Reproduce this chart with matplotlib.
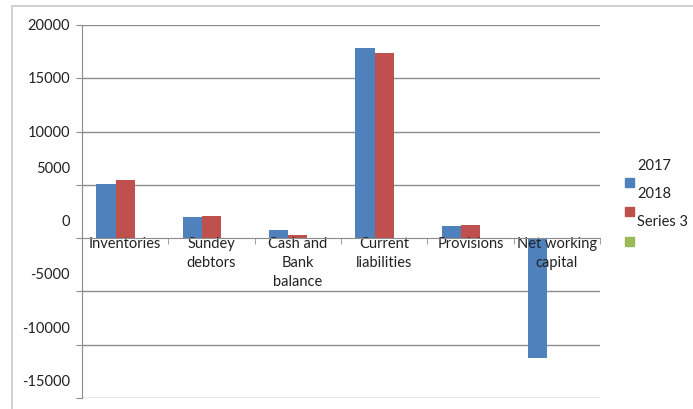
import matplotlib
matplotlib.use("Agg")
import matplotlib.pyplot as plt
import matplotlib.transforms as mtransforms
from matplotlib.patches import Rectangle
import numpy as np

plt.rcParams["font.family"] = ["Lato", "DejaVu Sans"]

categories = ["Inventories", "Sundey\ndebtors", "Cash and\nBank\nbalance",
              "Current\nliabilities", "Provisions", "Net working\ncapital"]
series_names = ["2017", "2018", "Series 3"]
values_2017 = [5050, 1970, 720, 17800, 1130, -11220]
values_2018 = [5480, 2100, 280, 17400, 1260, 0]
values_s3 = [np.nan] * 6
y_ticks = [20000, 15000, 10000, 5000, 0, -5000, -10000, -15000]

colors = ["#4F81BD", "#C0504D", "#9BBB59"]
grid_color = "#8C8C8C"

W, H = 693, 410
fig = plt.figure(figsize=(W / 100, H / 100), dpi=100)
ax = fig.add_axes([82 / W, 1 - 399 / H, 518 / W, 373 / H])

# outer chart frame
fig.add_artist(Rectangle((12 / W, -0.1), 1.2, 1.1 - 7 / H, transform=fig.transFigure,
                         fill=False, edgecolor="#C8C8C8", lw=1.2))

x = np.arange(len(categories))
width = 0.222
for i, vals in enumerate([values_2017, values_2018, values_s3]):
    ax.bar(x + (i - 1) * width, vals, width, color=colors[i], zorder=1)

ax.set_xlim(-0.5, len(categories) - 0.5)
ax.set_ylim(-15000, 20000)

# horizontal gridlines under the bars
for v in y_ticks:
    if v != 0:
        ax.axhline(v, color=grid_color, lw=1, zorder=0.5)

for s in ["top", "right"]:
    ax.spines[s].set_visible(False)
ax.spines["left"].set_color(grid_color)
ax.spines["bottom"].set_position(("data", 0))
ax.spines["bottom"].set_color(grid_color)

ax.set_yticks(y_ticks)
ax.set_yticklabels([])
ax.tick_params(axis="y", direction="out", length=4, color=grid_color)

# y labels: from 5000 down the labels sit higher than their gridlines
for v in y_ticks:
    dy = 0 if v > 5000 else 17
    tr = mtransforms.offset_copy(ax.get_yaxis_transform(), fig=fig, x=-12, y=dy, units="dots")
    ax.text(0, v, str(v), transform=tr, ha="right", va="center", fontsize=10.5, color="#222222")

ax.set_xticks(x)
ax.set_xticklabels(categories, fontsize=10.5, linespacing=1.45, color="#222222")
ax.set_xticks(np.arange(len(categories) + 1) - 0.5, minor=True)
ax.tick_params(axis="x", which="major", length=0, pad=-1.2)
ax.tick_params(axis="x", which="minor", direction="out", length=4, color=grid_color)

# legend: text sits above each colour key
for i, name in enumerate(series_names):
    y_key = 183 + 29.5 * i
    fig.add_artist(Rectangle((625 / W, 1 - (y_key + 4.5) / H), 8.5 / W, 9 / H,
                             transform=fig.transFigure, color=colors[i]))
    fig.text(637 / W, 1 - (166 + 28 * i) / H, name, ha="left", va="center",
             fontsize=10.5, color="#222222")

fig.savefig("out.png", dpi=100, facecolor="white")
